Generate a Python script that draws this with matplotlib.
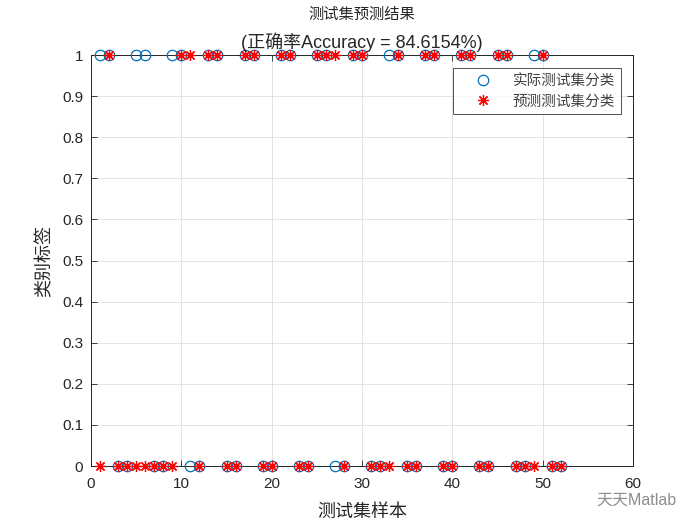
import matplotlib
matplotlib.use("Agg")
import matplotlib.pyplot as plt

plt.rcParams['font.family'] = ['Liberation Sans', 'Noto Sans CJK SC', 'DejaVu Sans']

sample_idx = list(range(1, 53))
actual = [1, 1, 0, 0, 1, 1, 0, 0, 1, 1, 0, 0, 1, 1, 0, 0, 1, 1, 0, 0,
          1, 1, 0, 0, 1, 1, 0, 0, 1, 1, 0, 0, 1, 1, 0, 0, 1, 1, 0, 0,
          1, 1, 0, 0, 1, 1, 0, 0, 1, 1, 0, 0]
predicted = [0, 1, 0, 0, 0, 0, 0, 0, 0, 1, 1, 0, 1, 1, 0, 0, 1, 1, 0, 0,
             1, 1, 0, 0, 1, 1, 1, 0, 1, 1, 0, 0, 0, 1, 0, 0, 1, 1, 0, 0,
             1, 1, 0, 0, 1, 1, 0, 0, 0, 1, 0, 0]
accuracy = 84.6154
x_ticks = [0, 10, 20, 30, 40, 50, 60]
y_ticks = [0, 0.1, 0.2, 0.3, 0.4, 0.5, 0.6, 0.7, 0.8, 0.9, 1]
y_tick_labels = ['0', '0.1', '0.2', '0.3', '0.4', '0.5', '0.6', '0.7', '0.8', '0.9', '1']

txt = (0.15, 0.15, 0.15)
fig = plt.figure(figsize=(7, 5.25), dpi=100)
ax = fig.add_axes([91/700, 1 - 466/525, (633 - 91)/700, (466 - 55)/525])

ax.plot(sample_idx, actual, linestyle='none', marker='o', markersize=7.5,
        markerfacecolor='none', markeredgecolor=(0, 0.447, 0.741), markeredgewidth=0.9,
        label='实际测试集分类', clip_on=False, zorder=3)
ax.plot(sample_idx, predicted, linestyle='none', marker=(8, 2, 0), markersize=8,
        color='red', markeredgewidth=0.9, label='预测测试集分类', clip_on=False, zorder=4)

ax.set_xlim(0, 60)
ax.set_ylim(0, 1)
ax.set_xticks(x_ticks)
ax.set_yticks(y_ticks)
ax.set_yticklabels(y_tick_labels)
ax.grid(True, color=(0.87, 0.87, 0.87), linewidth=0.6)
ax.set_axisbelow(True)
ax.tick_params(direction='in', length=4, width=0.6, labelsize=11, colors=txt,
               top=True, right=True)
ax.tick_params(axis='x', pad=8)
ax.tick_params(axis='y', pad=5.5)
for s in ax.spines.values():
    s.set_color(txt)
    s.set_linewidth(0.7)

ax.set_xlabel('测试集样本', fontsize=13, color=txt, labelpad=9)
ax.set_ylabel('类别标签', fontsize=13, color=txt, labelpad=6)

fig.text(362/700, 1 - 15/525, '测试集预测结果', fontsize=11, color=txt,
         ha='center', va='center')
fig.text(362/700, 1 - 42/525, '(正确率Accuracy = %.4f%%)' % accuracy, fontsize=13,
         color=txt, ha='center', va='center')

leg = ax.legend(loc='upper right', bbox_to_anchor=(621/700, 1 - 68/525),
                bbox_transform=fig.transFigure, fontsize=10.5, frameon=True,
                fancybox=False, edgecolor=txt, borderpad=0.4, labelspacing=0.45,
                handletextpad=0.4, handlelength=3.3, borderaxespad=0)
leg.get_frame().set_linewidth(0.7)
for t in leg.get_texts():
    t.set_color((0.25, 0.25, 0.25))

fig.text(636/700, 1 - 500/525, '天天Matlab', fontsize=11.5, color=(0.55, 0.55, 0.55),
         ha='center', va='center')

fig.savefig('out.png', dpi=100)
